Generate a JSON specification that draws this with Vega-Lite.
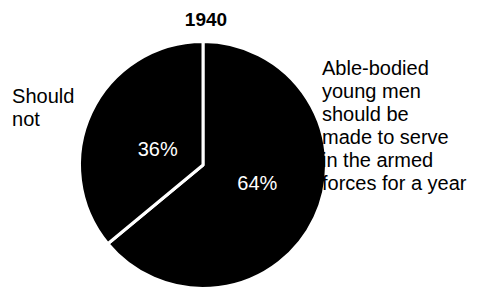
{
  "$schema": "https://vega.github.io/schema/vega-lite/v6.json",
  "width": 406,
  "height": 250,
  "autosize": {"type": "none"},
  "padding": {"top": 40, "left": 0, "right": 89, "bottom": 0},
  "background": "white",
  "title": {"text": "1940", "font": "Liberation Sans", "fontSize": 19, "fontWeight": "bold", "color": "black", "offset": 10, "dx": 3},
  "config": {"view": {"stroke": null}},
  "data": {
    "values": [
      {"answer": "Should be made to serve", "value": 64, "pct": "64%", "label": ["Able-bodied", "young men", "should be", "made to serve", "in the armed", "forces for a year"]},
      {"answer": "Should not", "value": 36, "pct": "36%", "label": ["Should", "not"]}
    ]
  },
  "encoding": {
    "theta": {"field": "value", "type": "quantitative", "stack": true, "scale": {"domain": [0, 100]}},
    "order": {"field": "value", "sort": "descending"}
  },
  "layer": [
    {"mark": {"type": "arc", "radius": 123.5, "fill": "black", "stroke": "white", "strokeWidth": 3, "strokeJoin": "round"}},
    {"mark": {"type": "text", "radius": 60, "dy": -7, "font": "Liberation Sans", "fontSize": 20, "fill": "white", "align": "center", "baseline": "middle"},
     "encoding": {"text": {"condition": {"test": "datum.value == 64", "field": "pct"}, "value": ""}}},
    {"mark": {"type": "text", "radius": 50, "dy": 6, "font": "Liberation Sans", "fontSize": 20, "fill": "white", "align": "center", "baseline": "middle"},
     "encoding": {"text": {"condition": {"test": "datum.value == 36", "field": "pct"}, "value": ""}}},
    {"transform": [
       {"stack": "value", "groupby": [], "sort": [{"field": "value", "order": "descending"}], "as": ["v0", "v1"]},
       {"filter": "datum.value == 64"}
     ],
     "mark": {"type": "text", "radius": 106, "dx": 119, "font": "Liberation Sans", "fontSize": 20, "lineHeight": 23, "fill": "black", "align": "left", "baseline": "top"},
     "encoding": {
       "theta": {"field": "v0", "type": "quantitative", "stack": null, "scale": {"domain": [0, 100]}},
       "text": {"field": "label"}
     }},
    {"mark": {"type": "text", "radius": 211, "dy": 12, "font": "Liberation Sans", "fontSize": 20, "lineHeight": 23, "fill": "black", "align": "left", "baseline": "top"},
     "encoding": {"text": {"condition": {"test": "datum.value == 36", "field": "label"}, "value": ""}}}
  ]
}
